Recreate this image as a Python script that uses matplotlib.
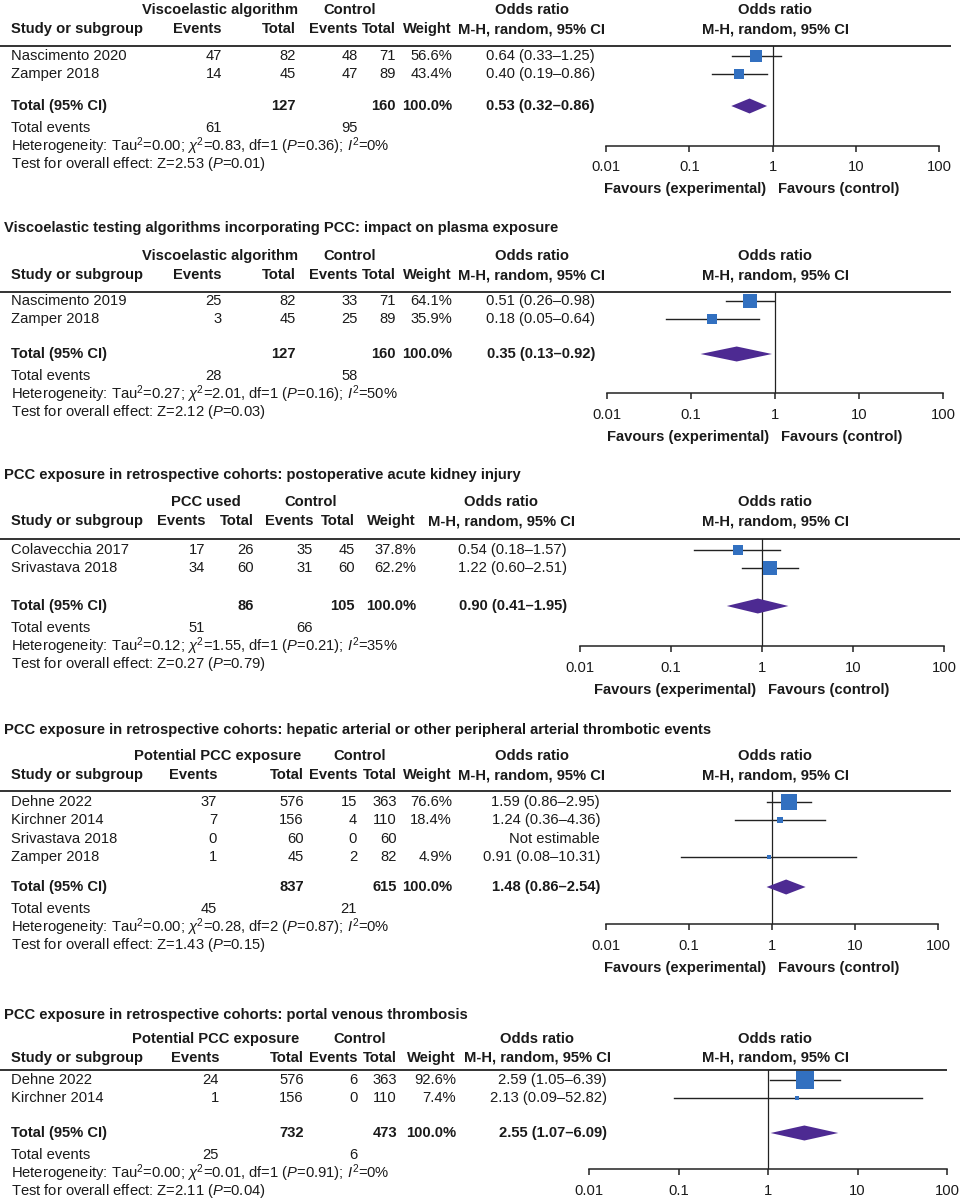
import matplotlib.pyplot as plt
from matplotlib.ticker import FixedLocator, FixedFormatter, NullLocator

plt.rcParams['font.family'] = ['Liberation Sans', 'DejaVu Sans']
plt.rcParams['mathtext.fontset'] = 'custom'
plt.rcParams['mathtext.rm'] = 'Liberation Sans'
plt.rcParams['mathtext.it'] = 'Liberation Sans:italic'
plt.rcParams['mathtext.bf'] = 'Liberation Sans:bold'

# ---- data (one entry per panel) ----
titles = [None,
          "Viscoelastic testing algorithms incorporating PCC: impact on plasma exposure",
          "PCC exposure in retrospective cohorts: postoperative acute kidney injury",
          "PCC exposure in retrospective cohorts: hepatic arterial or other peripheral arterial thrombotic events",
          "PCC exposure in retrospective cohorts: portal venous thrombosis"]
exp_labels = ["Viscoelastic algorithm", "Viscoelastic algorithm", "PCC used",
              "Potential PCC exposure", "Potential PCC exposure"]
studies = [["Nascimento 2020", "Zamper 2018"],
           ["Nascimento 2019", "Zamper 2018"],
           ["Colavecchia 2017", "Srivastava 2018"],
           ["Dehne 2022", "Kirchner 2014", "Srivastava 2018", "Zamper 2018"],
           ["Dehne 2022", "Kirchner 2014"]]
exp_events = [[47, 14], [25, 3], [17, 34], [37, 7, 0, 1], [24, 1]]
exp_total = [[82, 45], [82, 45], [26, 60], [576, 156, 60, 45], [576, 156]]
ctl_events = [[48, 47], [33, 25], [35, 31], [15, 4, 0, 2], [6, 0]]
ctl_total = [[71, 89], [71, 89], [45, 60], [363, 110, 60, 82], [363, 110]]
weights = [[56.6, 43.4], [64.1, 35.9], [37.8, 62.2], [76.6, 18.4, None, 4.9], [92.6, 7.4]]
or_est = [[0.64, 0.40], [0.51, 0.18], [0.54, 1.22], [1.59, 1.24, None, 0.91], [2.59, 2.13]]
or_lo = [[0.33, 0.19], [0.26, 0.05], [0.18, 0.60], [0.86, 0.36, None, 0.08], [1.05, 0.09]]
or_hi = [[1.25, 0.86], [0.98, 0.64], [1.57, 2.51], [2.95, 4.36, None, 10.31], [6.39, 52.82]]
sum_est = [0.53, 0.35, 0.90, 1.48, 2.55]
sum_lo = [0.32, 0.13, 0.41, 0.86, 1.07]
sum_hi = [0.86, 0.92, 1.95, 2.54, 6.09]
sum_exp_total = [127, 127, 86, 837, 732]
sum_ctl_total = [160, 160, 105, 615, 473]
tot_ev_exp = [61, 28, 51, 45, 25]
tot_ev_ctl = [95, 58, 66, 21, 6]
tau2 = ["0.00", "0.27", "0.12", "0.00", "0.00"]
chi2 = ["0.83", "2.01", "1.55", "0.28", "0.01"]
dfs = [1, 1, 1, 2, 1]
het_p = ["0.36", "0.16", "0.21", "0.87", "0.91"]
i2 = [0, 50, 35, 0, 0]
z_val = ["2.53", "2.12", "0.27", "1.43", "2.11"]
z_p = ["0.01", "0.03", "0.79", "0.15", "0.04"]
ticks = [0.01, 0.1, 1, 10, 100]
tick_labels = ["0.01", "0.1", "1", "10", "100"]

# ---- layout (pixels) ----
ax_x = [(606, 939), (607, 943), (580, 944), (606, 938), (589, 947)]
line_end = [951, 951, 960, 951, 947]
title_y = [None, 228, 475, 730, 1015]
head_y = [10, 256, 502, 756, 1039]
line_y = [45.5, 292, 539, 791, 1070]
row0_y = [56, 301, 550, 802, 1080]
total_y = [106, 354, 606, 887, 1133]
axis_y = [145.5, 393, 646, 924, 1169]
show_fav = [True, True, True, True, False]
# ev, tot, cev, ctot, wt, or-right, or-header centre, exp centre, ctl centre
cols = [(222, 296, 358, 396, 452, 595, 532, 220, 350),
        (222, 296, 358, 396, 452, 595, 532, 220, 350),
        (205, 254, 313, 355, 416, 567, 501, 206, 311),
        (217, 304, 357, 397, 452, 600, 532, 218, 360),
        (219, 304, 358, 397, 456, 607, 537, 216, 360)]
step = 18.3
FS = 10.6
W, H = 960, 1200
BLUE = '#3270c0'
PURPLE = '#4d2a92'
INK = '#1a1a1a'

fig = plt.figure(figsize=(9.6, 12), dpi=100)
bg = fig.add_axes([0, 0, 1, 1])
bg.set_xlim(0, W)
bg.set_ylim(H, 0)
bg.axis('off')


def txt(x, y, s, ha='left', bold=False):
    bg.text(x, y, s, ha=ha, va='center', fontsize=FS, color=INK,
            fontweight='bold' if bold else 'normal')


def fmt_or(e, l, h):
    return f"{e:.2f} ({l:.2f}\u2013{h:.2f})"


for p in range(5):
    ev, tot, cev, ctot, wt, orr, orh, expc, ctlc = cols[p]
    if titles[p]:
        txt(4, title_y[p], titles[p], bold=True)
    y1 = head_y[p]
    y2 = y1 + 19
    txt(expc, y1, exp_labels[p], ha='center', bold=True)
    txt(ctlc, y1, "Control", ha='center', bold=True)
    txt(orh, y1, "Odds ratio", ha='center', bold=True)
    txt(11, y2, "Study or subgroup", bold=True)
    txt(ev, y2, "Events", ha='right', bold=True)
    txt(tot, y2, "Total", ha='right', bold=True)
    txt(cev, y2, "Events", ha='right', bold=True)
    txt(ctot, y2, "Total", ha='right', bold=True)
    txt(wt, y2, "Weight", ha='right', bold=True)
    txt(orh, y2, "M-H, random, 95% CI", ha='center', bold=True)
    txt(775, y1, "Odds ratio", ha='center', bold=True)
    txt(775, y2, "M-H, random, 95% CI", ha='center', bold=True)
    bg.plot([0, line_end[p]], [line_y[p], line_y[p]], color='#333333', lw=1.4,
            solid_capstyle='butt')

    # forest axes
    x0, x1 = ax_x[p]
    ax = fig.add_axes([x0 / W, 1 - axis_y[p] / H, (x1 - x0) / W,
                       (axis_y[p] - line_y[p]) / H])
    ax.set_xscale('log')
    ax.set_xlim(0.01, 100)
    ax.set_ylim(axis_y[p], line_y[p])
    ax.patch.set_alpha(0)
    for sp in ['top', 'left', 'right']:
        ax.spines[sp].set_visible(False)
    ax.spines['bottom'].set_linewidth(1.1)
    ax.spines['bottom'].set_color('#222222')
    ax.set_yticks([])
    ax.xaxis.set_major_locator(FixedLocator(ticks))
    ax.xaxis.set_major_formatter(FixedFormatter(tick_labels))
    ax.xaxis.set_minor_locator(NullLocator())
    ax.tick_params(axis='x', direction='out', length=4.5, width=1.1,
                   color='#222222', labelsize=FS, labelcolor=INK, pad=6)
    ax.axvline(1, color='#222222', lw=0.9)

    for i, name in enumerate(studies[p]):
        y = row0_y[p] + i * step
        txt(11, y, name)
        txt(ev, y, str(exp_events[p][i]), ha='right')
        txt(tot, y, str(exp_total[p][i]), ha='right')
        txt(cev, y, str(ctl_events[p][i]), ha='right')
        txt(ctot, y, str(ctl_total[p][i]), ha='right')
        w = weights[p][i]
        if w is None:
            txt(orr, y, "Not estimable", ha='right')
            continue
        txt(wt, y, f"{w:.1f}%", ha='right')
        txt(orr, y, fmt_or(or_est[p][i], or_lo[p][i], or_hi[p][i]), ha='right')
        ax.plot([or_lo[p][i], or_hi[p][i]], [y, y], color='#222222', lw=1.0, zorder=2)
        side = 3 + 0.17 * w
        ax.plot([or_est[p][i]], [y], marker='s', markersize=side * 0.72,
                color=BLUE, markeredgewidth=0, zorder=3)

    ty = total_y[p]
    txt(11, ty, "Total (95% CI)", bold=True)
    txt(tot, ty, str(sum_exp_total[p]), ha='right', bold=True)
    txt(ctot, ty, str(sum_ctl_total[p]), ha='right', bold=True)
    txt(wt, ty, "100.0%", ha='right', bold=True)
    txt(orr, ty, fmt_or(sum_est[p], sum_lo[p], sum_hi[p]), ha='right', bold=True)
    ax.fill([sum_lo[p], sum_est[p], sum_hi[p], sum_est[p]],
            [ty, ty - 7.5, ty, ty + 7.5], color=PURPLE, lw=0, zorder=3)

    txt(11, ty + 22, "Total events")
    txt(ev, ty + 22, str(tot_ev_exp[p]), ha='right')
    txt(cev, ty + 22, str(tot_ev_ctl[p]), ha='right')
    txt(11, ty + 40, f"Heterogeneity: Tau$^2$={tau2[p]}; $\\chi^2$={chi2[p]}, "
                     f"df={dfs[p]} ($P$={het_p[p]}); $I^2$={i2[p]}%")
    txt(11, ty + 58, f"Test for overall effect: Z={z_val[p]} ($P$={z_p[p]})")

    if show_fav[p]:
        xone = x0 + (x1 - x0) / 2
        txt(xone - 6, axis_y[p] + 44, "Favours (experimental)", ha='right', bold=True)
        txt(xone + 6, axis_y[p] + 44, "Favours (control)", bold=True)

fig.savefig('out.png', dpi=100)
